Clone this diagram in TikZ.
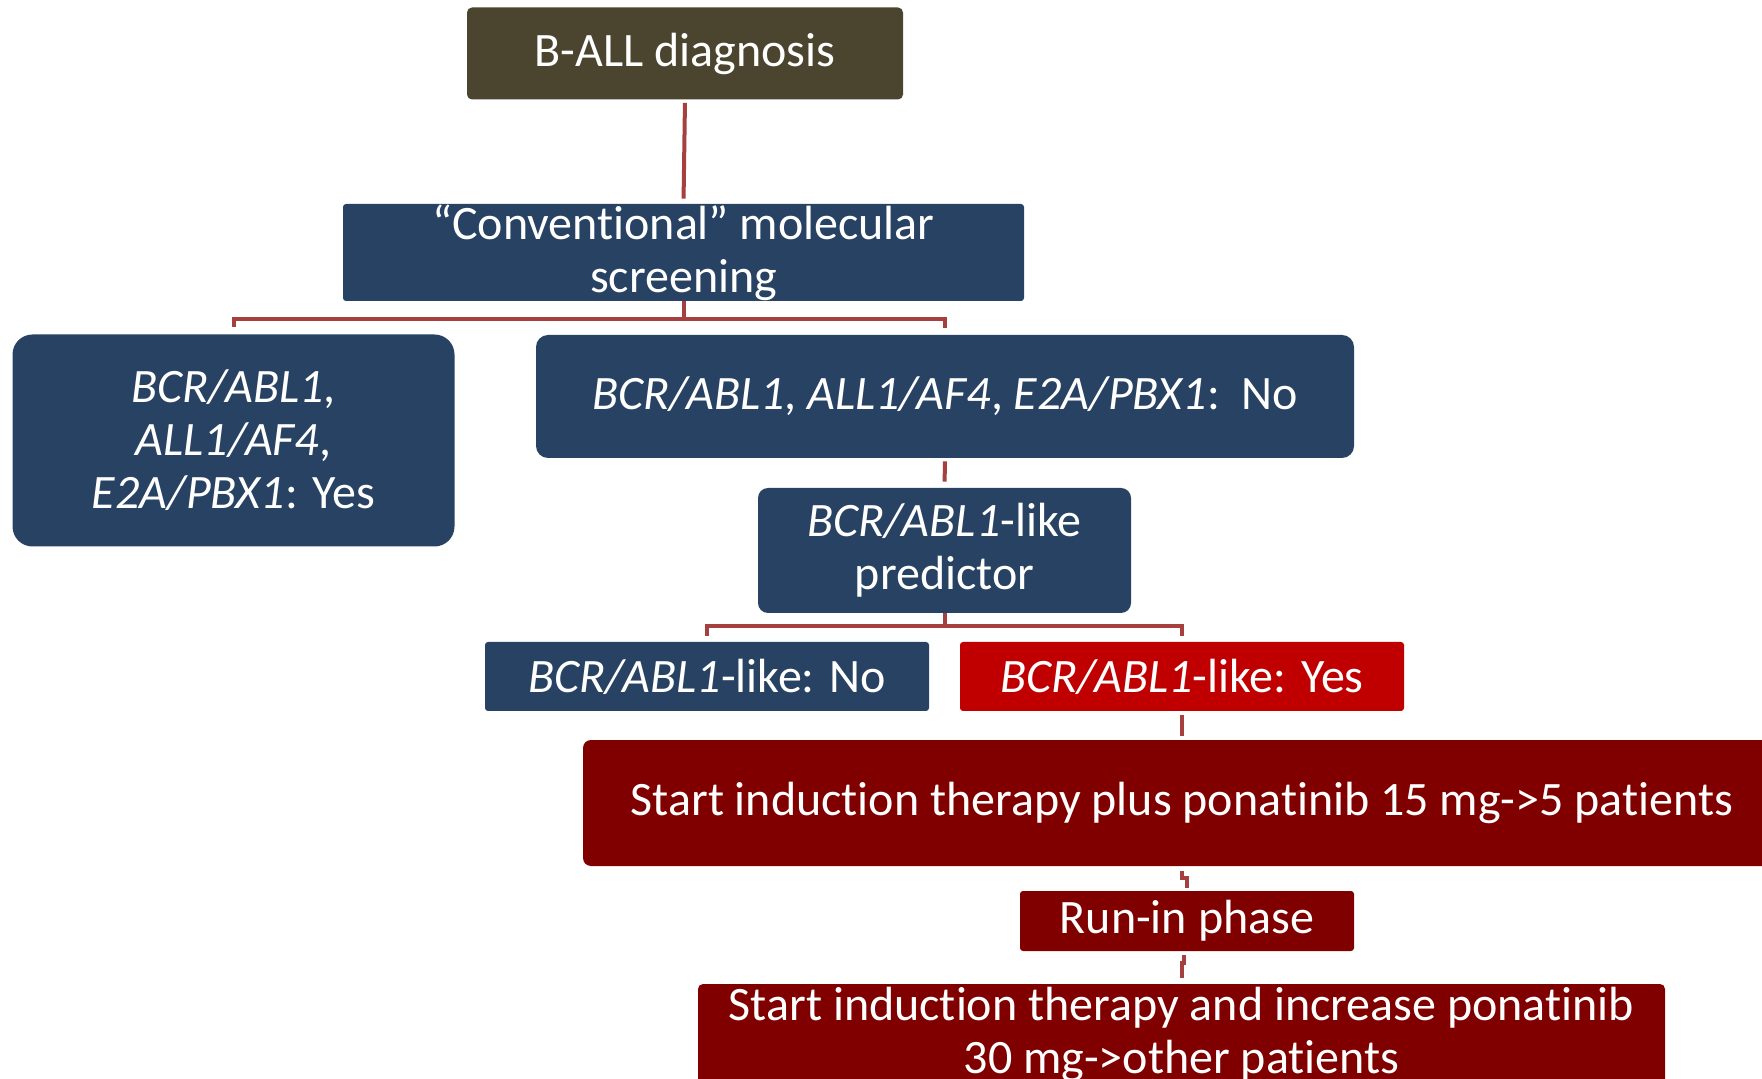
\documentclass[tikz,border=0pt]{standalone}
\usepackage{fontspec}
\setmainfont{Carlito}[Ligatures=NoCommon]
\usepackage{tikz}
\definecolor{olivebox}{HTML}{4B4530}
\definecolor{navybox}{HTML}{284263}
\definecolor{brightred}{HTML}{C00000}
\definecolor{darkred}{HTML}{800000}
\definecolor{linkred}{HTML}{A5403E}
\begin{document}
\begin{tikzpicture}[x=0.5pt,y=-0.5pt,
    box/.style={text=white,align=center,inner sep=0pt,
        font=\fontsize{24}{26.5}\selectfont},
    navy/.style={box,fill=navybox},
    redbox/.style={box,fill=darkred},
    link/.style={draw=linkred,line width=2pt}]
    \useasboundingbox (0,0) rectangle (1762,1079);
    \clip (0,0) rectangle (1762,1079);
    \node[box,fill=olivebox,rounded corners=2.5pt,minimum width=218pt,minimum height=46pt] (diag) at (685,53.5) {B-ALL diagnosis};
    \node[navy,rounded corners=1.5pt,minimum width=340.5pt,minimum height=48.5pt] (screen) at (683.5,252.5) {``Conventional'' molecular\\screening};
    \node[navy,rounded corners=10pt,minimum width=221pt,minimum height=106pt] (yes3) at (233.5,440.5) {\textit{BCR/ABL1},\\\textit{ALL1/AF4},\\\textit{E2A/PBX1}: Yes};
    \node[navy,rounded corners=6pt,minimum width=409pt,minimum height=61.5pt] (no3) at (945,396.5) {\textit{BCR/ABL1}, \textit{ALL1/AF4}, \textit{E2A/PBX1}:\ \ No};
    \node[navy,rounded corners=5pt,minimum width=186.5pt,minimum height=62.5pt] (pred) at (944.5,550.5) {\textit{BCR/ABL1}-like\\predictor};
    \node[navy,rounded corners=1.5pt,minimum width=222pt,minimum height=34.5pt] (likeno) at (707,676.5) {\textit{BCR/ABL1}-like: No};
    \node[box,fill=brightred,rounded corners=1.5pt,minimum width=222pt,minimum height=34.5pt] (likeyes) at (1182,676.5) {\textit{BCR/ABL1}-like: Yes};
    \node[redbox,rounded corners=4pt,minimum width=599pt,minimum height=63pt] (start15) at (1182,803) {Start induction therapy plus ponatinib 15 mg->5 patients};
    \node[redbox,rounded corners=1.5pt,minimum width=167pt,minimum height=30pt] (runin) at (1187,921) {Run-in phase};
    \node[redbox,rounded corners=2.5pt,minimum width=483.5pt,minimum height=50pt] (start30) at (1181.5,1034) {Start induction therapy and increase ponatinib\\30 mg->other patients};
    \draw[link,shorten <=1.5pt,shorten >=2.5pt] (diag.south) -- (screen.north);
    \draw[link] (screen.south) -- ++(0,18) coordinate (split1);
    \draw[link,shorten >=3.5pt] (split1) -| (yes3.north);
    \draw[link,shorten >=3.5pt] (split1) -| (no3.north);
    \draw[link,shorten <=1.5pt,shorten >=3pt] (no3.south) -- (pred.north);
    \draw[link] (pred.south) -- ++(0,13) coordinate (split2);
    \draw[link,shorten >=3pt] (split2) -| (likeno.north);
    \draw[link,shorten >=3pt] (split2) -| (likeyes.north);
    \draw[link,shorten <=2pt,shorten >=2pt] (likeyes.south) -- (start15.north);
    \draw[link,shorten <=2.5pt,shorten >=1.5pt] (start15.south) -- ++(0,12) -| (runin.north);
    \draw[link,shorten <=2pt,shorten >=3pt] (runin.south -| start30) ++(2,0) -- ++(0,12) -| (start30.north);
\end{tikzpicture}
\end{document}
